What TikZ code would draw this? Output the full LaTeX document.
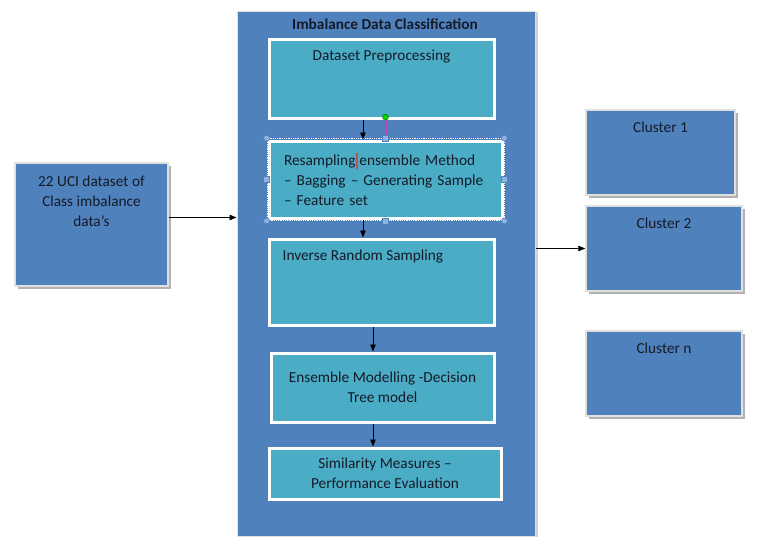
\documentclass[tikz,border=0pt]{standalone}
\usepackage{fontspec}
\setmainfont{Carlito}
\usepackage{xcolor}
\usetikzlibrary{calc,shadows,arrows.meta}

\definecolor{boxblue}{HTML}{4F81BD}
\definecolor{boxteal}{HTML}{4BACC6}
\definecolor{txtdark}{HTML}{141B28}
\definecolor{hdlblue}{HTML}{8DB3E2}
\definecolor{cursor}{HTML}{C0504D}
\definecolor{rotline}{HTML}{C23FC8}

\begin{document}
\begin{tikzpicture}[x=1pt, y=-1pt, font=\fontsize{15.3}{20}\selectfont, text=txtdark,
    blubox/.style={draw=white!88!black, line width=1.5pt, fill=boxblue,
        drop shadow={shadow xshift=2.5pt, shadow yshift=-2.5pt, fill=black!30, opacity=1}},
    stagebox/.style={draw=white, line width=3pt, fill=boxteal,
        drop shadow={shadow xshift=1.5pt, shadow yshift=-1.5pt, fill=black!25, opacity=1}},
    toptext/.style={anchor=north, inner sep=0pt, align=center, yshift=-12.5pt},
    arr/.style={-{Triangle[length=7pt, width=5.5pt]}, line width=0.9pt, black},
    selframe/.style={draw=white, densely dotted, line width=0.8pt},
    hdl/.style={draw=boxblue, fill=hdlblue, line width=0.6pt}
  ]

    %page
    \useasboundingbox (0,0) rectangle (773,538);

    %outer frame
    \node[draw=black!12, line width=1pt, fill=boxblue, minimum width=298pt, minimum height=525pt,
        drop shadow={shadow xshift=3pt, shadow yshift=-1pt, fill=black!18, opacity=1}]
        (frame) at (386,273.5) {};
    \node[font=\fontsize{15.3}{20}\selectfont\bfseries] (title) at (385,24) {Imbalance Data Classification};

    %stages
    \node[stagebox, minimum width=225pt, minimum height=79pt,
        label={[toptext]north:Dataset Preprocessing}] (pre) at (381.5,78.5) {};
    \node[stagebox, minimum width=233pt, minimum height=77pt, text width=203pt, inner xsep=15pt,
        align=left] (res) at (385.5,179.5)
        {Resampling\hspace{1pt}{\color{cursor}\rule[-4pt]{2pt}{16pt}}\hspace{1pt}ensemble Method\\
         – Bagging – Generating Sample\\ – Feature set};
    \node[stagebox, minimum width=225pt, minimum height=86pt,
        label={[toptext, anchor=north west, xshift=15pt]north west:Inverse Random Sampling}] (inv) at (381.5,282) {};
    \node[stagebox, minimum width=223pt, minimum height=69pt, align=center] (ens) at (382.5,387.5)
        {Ensemble Modelling -Decision\\ Tree model};
    \node[stagebox, minimum width=232pt, minimum height=51pt, align=center] (sim) at (385,473.5)
        {Similarity Measures –\\ Performance Evaluation};

    %input and clusters
    \node[blubox, minimum width=153pt, minimum height=123pt,
        label={[toptext, yshift=-1pt]north:22 UCI dataset of\\ Class imbalance\\ data’s}] (src) at (91.5,224.5) {};
    \node[blubox, minimum width=149pt, minimum height=85pt,
        label={[toptext]north:Cluster 1}] (c1) at (660.5,152.5) {};
    \node[blubox, minimum width=156pt, minimum height=85pt,
        label={[toptext]north:Cluster 2}] (c2) at (664,248.5) {};
    \node[blubox, minimum width=156pt, minimum height=85pt,
        label={[toptext]north:Cluster n}] (cn) at (664,373.5) {};

    %selection around resampling stage
    \node[selframe, minimum width=237pt, minimum height=82pt] (sel) at (res.center) {};
    \coordinate (rot) at ($(sel.north)+(0,-21)$);
    \fill[rotline] ($(rot)+(-1,3)$) rectangle ($(sel.north)+(1,-3)$);
    \fill[green!85!black, draw=green!40!black, line width=0.4pt] (rot) circle (3pt);
    \foreach \a in {north west,north east,south west,south east}
        \draw[hdl] (sel.\a) circle (3pt);
    \foreach \a in {north,south,east,west}
        \draw[hdl] ($(sel.\a)+(-3,-3)$) rectangle ++(6,6);

    %arrows
    \draw[arr] ($(src.east)+(0,-7)$) coordinate (s) -- (s -| frame.west);
    \draw[arr] (c2.west -| frame.east) -- (c2.west);
    \draw[arr] ($(pre.south)+(-18.5,0)$) coordinate (p1) -- (p1 |- res.north);
    \draw[arr] ($(res.south)+(-22.5,0)$) coordinate (p2) -- (p2 |- inv.north);
    \draw[arr] ($(inv.south)+(-8.5,0)$) coordinate (p3) -- (p3 |- ens.north);
    \draw[arr] ($(ens.south)+(-9.5,0)$) coordinate (p4) -- (p4 |- sim.north);

\end{tikzpicture}
\end{document}
